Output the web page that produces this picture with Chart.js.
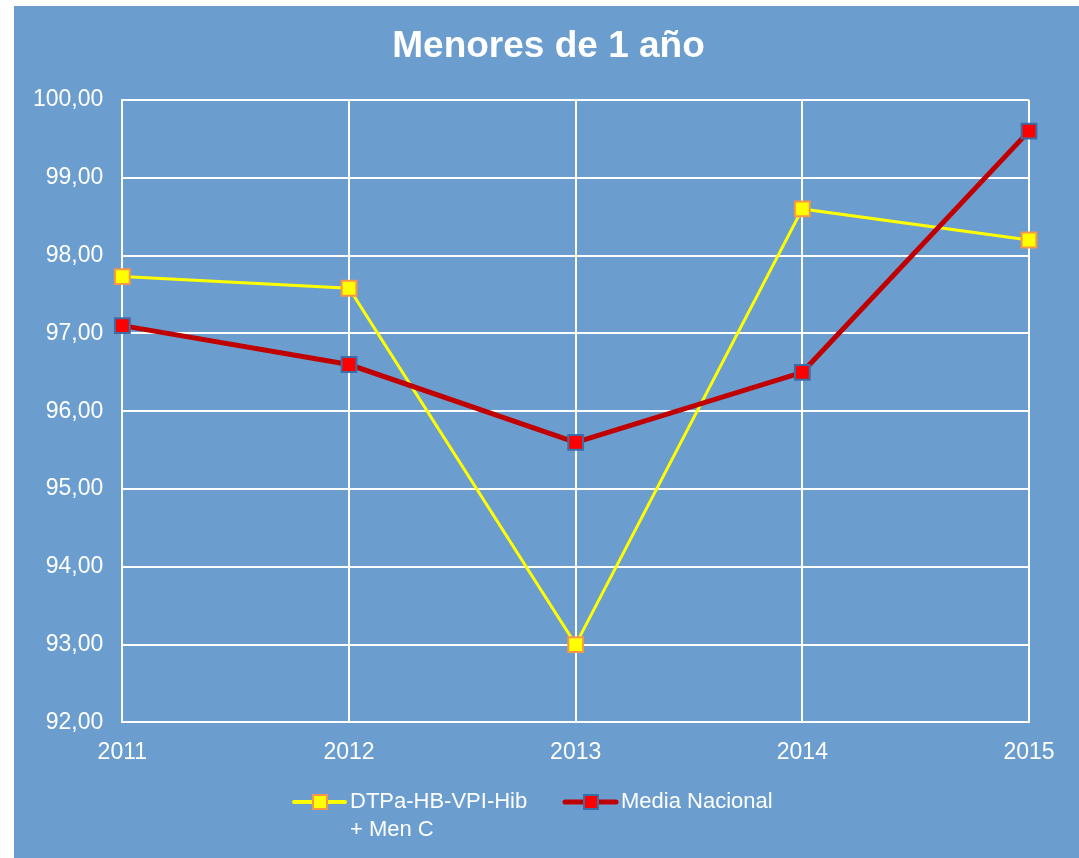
<!DOCTYPE html>
<html>
<head>
<meta charset="utf-8">
<script src="https://cdn.jsdelivr.net/npm/chart.js@4/dist/chart.umd.min.js"></script>
<style>
  html, body { margin: 0; padding: 0; background: #fff; }
  #wrap { position: absolute; left: 14px; top: 6px; width: 1065px; height: 852px; background: #6b9ece; }
</style>
</head>
<body>
<div id="wrap"><canvas id="myChart" width="1065" height="852"></canvas></div>
<script>
const years = ['2011', '2012', '2013', '2014', '2015']
const dtpaValues = [97.73, 97.58, 93.0, 98.6, 98.2]
const mediaValues = [97.1, 96.6, 95.6, 96.5, 99.6]
const seriesNames = [['DTPa-HB-VPI-Hib', '+ Men C'], ['Media Nacional']]
const chartTitle = 'Menores de 1 año'

const fontFamily = '"Liberation Sans", Arial, sans-serif'

// title centred on the whole box (not on the plot), drawn by hand
const titlePlugin = {
  id: 'boxTitle',
  afterDraw(chart) {
    const ctx = chart.ctx
    ctx.save()
    ctx.fillStyle = '#ffffff'
    ctx.font = 'bold 37px ' + fontFamily
    ctx.textAlign = 'center'
    ctx.textBaseline = 'middle'
    ctx.fillText(chartTitle, chart.width / 2 + 2, 41)
    ctx.restore()
  }
}

// legend drawn by hand: line + square marker, text may wrap on two lines
const legendPlugin = {
  id: 'customLegend',
  afterDraw(chart) {
    const ctx = chart.ctx
    const items = [
      { x: 280, text: seriesNames[0], line: '#ffff00', lw: 4, fill: '#ffff00', border: '#f79646' },
      { x: 551, text: seriesNames[1], line: '#c00000', lw: 5, fill: '#ff0000', border: '#3a6ea5' },
    ]
    const y = 796
    ctx.save()
    items.forEach(it => {
      ctx.strokeStyle = it.line
      ctx.lineWidth = it.lw
      ctx.lineCap = 'round'
      ctx.beginPath()
      ctx.moveTo(it.x, y)
      ctx.lineTo(it.x + 51, y)
      ctx.stroke()
      ctx.fillStyle = it.fill
      ctx.strokeStyle = it.border
      ctx.lineWidth = 2
      ctx.fillRect(it.x + 19, y - 7, 14, 14)
      ctx.strokeRect(it.x + 19, y - 7, 14, 14)
      ctx.fillStyle = '#ffffff'
      ctx.font = '22px ' + fontFamily
      ctx.textBaseline = 'middle'
      it.text.forEach((t, i) => ctx.fillText(t, it.x + 56, y + i * 28))
    })
    ctx.restore()
  }
}

const ctx = document.getElementById('myChart')
const myChart = new Chart(ctx, {
  type: 'line',
  data: {
    labels: years,
    datasets: [
      {
        label: seriesNames[0].join(' '),
        data: dtpaValues,
        borderColor: '#ffff00',
        borderWidth: 3,
        pointStyle: 'rect',
        pointRadius: 10.5,
        pointBackgroundColor: '#ffff00',
        pointBorderColor: '#f79646',
        pointBorderWidth: 2,
        lineTension: 0,
        order: 1,
      },
      {
        label: seriesNames[1].join(' '),
        data: mediaValues,
        borderColor: '#c00000',
        borderWidth: 5,
        pointStyle: 'rect',
        pointRadius: 10.5,
        pointBackgroundColor: '#ff0000',
        pointBorderColor: '#3a6ea5',
        pointBorderWidth: 2,
        lineTension: 0,
        order: 0,
      },
    ],
  },
  options: {
    responsive: false,
    animation: false,
    layout: { padding: { left: 0, right: 50, top: 94, bottom: 76 } },
    plugins: {
      legend: { display: false },
      tooltip: { enabled: false },
      title: { display: false },
    },
    scales: {
      x: {
        offset: false,
        grid: { color: '#ffffff', lineWidth: 2, drawTicks: false },
        border: { color: '#ffffff', width: 2 },
        ticks: {
          color: '#ffffff',
          padding: 16,
          font: { family: fontFamily, size: 23 },
        },
      },
      y: {
        min: 92,
        max: 100,
        grid: { color: '#ffffff', lineWidth: 2, drawTicks: false },
        border: { color: '#ffffff', width: 2 },
        ticks: {
          stepSize: 1,
          color: '#ffffff',
          padding: 19,
          font: { family: fontFamily, size: 23 },
          callback: v => v.toFixed(2).replace('.', ','),
        },
      },
    },
  },
  plugins: [titlePlugin, legendPlugin],
})
</script>
</body>
</html>
